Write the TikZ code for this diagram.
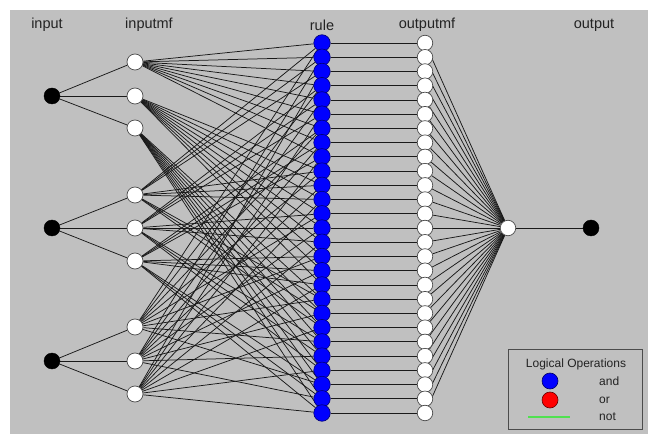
\documentclass[tikz,border=0pt]{standalone}
\usepackage{fontspec}
\setmainfont{Liberation Sans}
\pgfdeclarelayer{back}
\pgfdeclarelayer{bg}
\pgfsetlayers{back,bg,main}
\definecolor{bgc}{RGB}{192,192,192}
\definecolor{txt}{RGB}{35,35,35}
\definecolor{lgreen}{RGB}{80,225,80}
\begin{document}
\begin{tikzpicture}[x=1bp,y=-1bp,
  edge/.style={draw=black!90, line width=0.75bp},
  inpnode/.style={circle, fill=black, draw=black, minimum size=16bp, inner sep=0pt},
  mfnode/.style={circle, fill=white, draw=black!70, line width=0.7bp, minimum size=16bp, inner sep=0pt},
  rulenode/.style={circle, fill=blue, draw=blue!45!black, line width=0.6bp, minimum size=16.5bp, inner sep=0pt},
  omfnode/.style={circle, fill=white, draw=black!70, line width=0.7bp, minimum size=15.5bp, inner sep=0pt},
  hdr/.style={font=\fontsize{14.5bp}{16bp}\selectfont, text=txt, inner sep=0pt},
  legtxt/.style={font=\fontsize{12bp}{14bp}\selectfont, text=txt, inner sep=0pt},
]
\useasboundingbox (0,0) rectangle (648,434);
\begin{pgfonlayer}{back}
\fill[white] (0,0) rectangle (648,434);
\fill[bgc] (10,10) rectangle (648,434);
\end{pgfonlayer}

% headers
\node[hdr] (h1) at (47,25) {input};
\node[hdr] (h2) at (149,25) {inputmf};
\node[hdr] (h3) at (322,25) {rule};
\node[hdr] (h4) at (427,25) {outputmf};
\node[hdr] (h5) at (594,25) {output};

% nodes
\foreach \y [count=\i] in {96,228,361} \node[inpnode] (in\i) at (52,\y) {};
\foreach \y [count=\i] in {62,96,128,195,228,261,327,361,394} \node[mfnode] (mf\i) at (135,\y) {};
\foreach \i in {1,...,27} {
  \node[rulenode] (r\i) at (322,{43+(\i-1)*370/26}) {};
  \node[omfnode] (om\i) at (425,{43+(\i-1)*370/26}) {};
}
\node[omfnode] (agg) at (508,228) {};
\node[inpnode] (out) at (591,228) {};

% edges
\begin{pgfonlayer}{bg}
\foreach \k in {1,2,3} \foreach \j in {1,2,3} {
  \pgfmathtruncatemacro\m{3*(\k-1)+\j}
  \draw[edge] (in\k) -- (mf\m);
}
\foreach \i in {1,...,27} {
  \pgfmathtruncatemacro\a{div(\i-1,9)+1}
  \pgfmathtruncatemacro\b{mod(div(\i-1,3),3)+4}
  \pgfmathtruncatemacro\c{mod(\i-1,3)+7}
  \draw[edge] (mf\a) -- (r\i);
  \draw[edge] (mf\b) -- (r\i);
  \draw[edge] (mf\c) -- (r\i);
  \draw[edge] (r\i) -- (om\i);
  \draw[edge] (om\i) -- (agg);
}
\draw[edge] (agg) -- (out);
\end{pgfonlayer}

% legend
\node[draw=black!70, line width=0.7bp, minimum width=134bp, minimum height=80bp, inner sep=0pt] (leg) at (575,389) {};
\node[legtxt] (legt) at (576,364) {Logical Operations};
\node[circle, fill=blue, draw=blue!40!black, line width=0.6bp, minimum size=16bp, inner sep=0pt] (lb) at (550,381) {};
\node[circle, fill=red, draw=red!40!black, line width=0.6bp, minimum size=16bp, inner sep=0pt] (lr) at (550,400) {};
\coordinate (g1) at (528,417);
\coordinate (g2) at (570,417);
\draw[lgreen, line width=1.4bp] (g1) -- (g2);
\node[legtxt, anchor=west] (land) at (599,381) {and};
\node[legtxt, anchor=west] (lor) at (599,400) {or};
\node[legtxt, anchor=west] (lnot) at (599,417) {not};
\end{tikzpicture}
\end{document}
